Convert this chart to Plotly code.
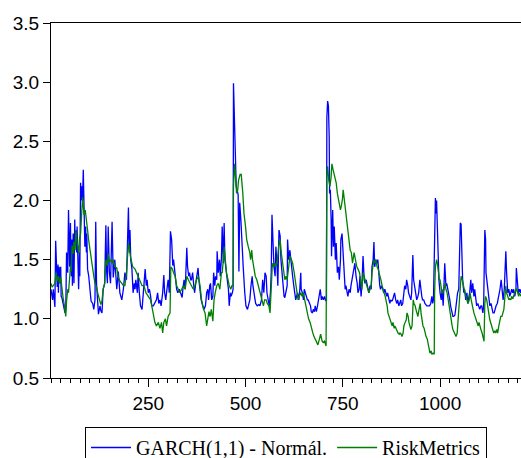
import plotly.graph_objects as go

garch_obs = [0,2,4,6,8,10,12,14,16,18,19,21,23,25,26,28,31,34,36,38,40,43,45,48,50,52,54,55,57,59,61,62,64,66,67,69,71,73,74,76,78,79,81,83,85,87,89,91,92,94,97,100,103,107,110,113,115,117,120,122,126,128,131,134,138,141,143,145,147,150,153,157,160,164,169,173,177,
             182,186,190,194,199,201,203,205,208,211,214,216,218,222,224,227,230,234,237,240,242,245,247,250,253,256,259,263,267,271,274,277,280,283,287,290,292,295,298,301,304,307,310,313,315,318,320,323,326,330,333,337,339,342,345,349,351,354,356,359,361,364,367,369,372,374,378,380,
             383,386,390,393,397,400,403,405,408,410,413,416,418,421,423,426,427,430,433,435,438,440,443,445,447,450,453,456,458,461,463,466,468,469,471,472,474,476,479,481,483,485,488,491,494,498,501,505,508,511,514,517,519,523,526,530,534,537,541,544,547,550,553,555,559,561,564,566,568,571,573,576,578,581,583,586,589,591,594,596,599,601,604,607,608,611,
             614,616,619,621,624,626,629,631,634,637,639,642,643,646,649,651,654,656,659,661,664,667,669,672,674,677,679,682,685,687,690,692,695,697,700,703,705,708,709,711,713,715,716,718,720,721,724,726,728,731,733,736,739,741,744,745,748,751,753,756,758,761,763,766,769,771,774,776,779,781,784,787,789,792,794,
             797,799,802,805,807,810,812,815,817,820,823,825,828,830,832,835,837,840,842,845,847,850,853,855,858,860,863,865,868,871,873,876,878,881,883,886,889,891,894,896,899,901,904,907,909,912,914,917,919,922,925,927,930,932,935,937,940,943,945,948,950,953,955,958,961,963,966,968,971,973,976,979,981,983,985,986,988,990,991,993,995,997,
             1000,1003,1005,1008,1010,1012,1015,1017,1020,1022,1025,1027,1030,1033,1035,1038,1040,1043,1045,1048,1051,1052,1054,1056,1058,1061,1063,1066,1069,1071,1074,1076,1079,1081,1084,1087,1089,1092,1094,1097,1099,1102,1105,1107,1110,1112,1115,1117,1118,1121,1123,1126,1128,1131,1134,1136,1139,1141,1144,1147,1149,1152,1154,1157,1159,1162,1165,1167,1169,1171,1174,1177,1179,1182,1184,1187,1189,1192,1195,1196,1199,1201,1204,1207,1208]
garch_val = [1.25,1.20,1.16,1.25,1.12,1.10,1.66,1.36,1.27,1.46,1.22,1.44,1.30,1.44,1.19,1.18,1.12,1.08,1.05,1.08,1.56,1.39,1.92,1.44,1.81,1.36,1.67,1.28,1.72,1.30,1.84,1.67,1.75,1.56,1.78,1.33,1.25,1.56,1.36,2.15,2.00,2.12,2.00,2.26,2.00,1.61,1.78,1.56,1.72,1.42,1.36,1.22,1.15,1.13,1.08,1.16,1.82,1.30,1.08,1.04,1.11,1.07,1.05,1.25,1.30,1.79,1.40,1.30,1.78,1.40,1.30,1.82,1.35,1.50,1.25,1.40,1.22,
             1.16,1.25,1.39,1.33,1.94,1.56,1.75,1.50,1.42,1.22,1.30,1.25,1.33,1.22,1.39,1.22,1.11,1.08,1.22,1.33,1.42,1.28,1.33,1.22,1.25,1.19,1.11,1.11,1.13,1.16,1.22,1.13,1.16,1.11,1.22,1.37,1.22,1.16,1.25,1.33,1.22,1.74,1.67,1.45,1.50,1.39,1.33,1.25,1.22,1.25,1.22,1.18,1.25,1.33,1.25,1.60,1.44,1.36,1.39,1.33,1.33,1.39,1.28,1.22,1.30,1.36,1.43,1.33,
             1.22,1.16,1.11,1.08,1.11,1.22,1.25,1.16,1.28,1.30,1.16,1.19,1.39,1.28,1.36,1.33,1.57,1.39,1.50,1.36,1.51,1.78,1.47,1.81,1.50,1.39,1.33,1.25,1.11,1.22,1.19,1.22,1.25,2.99,2.79,2.62,2.35,2.12,2.08,2.05,1.40,1.98,1.84,1.61,1.44,1.22,1.11,1.08,1.13,1.16,1.28,1.36,1.28,1.19,1.13,1.11,1.12,1.11,1.16,1.33,1.22,1.39,1.36,1.22,1.16,1.11,1.22,1.39,1.88,1.64,1.44,1.36,1.61,1.44,1.28,1.75,1.70,1.50,1.39,1.25,1.19,1.18,1.22,1.28,1.67,1.50,
             1.58,1.50,1.44,1.36,1.28,1.22,1.16,1.19,1.22,1.16,1.22,1.39,1.25,1.22,1.16,1.25,1.22,1.19,1.16,1.16,1.13,1.11,1.06,1.05,1.08,1.06,1.11,1.06,1.11,1.16,1.22,1.25,1.16,1.19,1.16,1.19,1.16,1.15,2.70,2.84,2.80,2.54,2.06,2.09,1.84,1.53,1.92,1.61,1.78,1.50,1.64,1.39,1.44,1.33,1.50,1.67,1.72,1.50,1.33,1.25,1.28,1.22,1.19,1.25,1.22,1.28,1.33,1.39,1.44,1.47,1.36,1.30,1.22,1.25,1.36,
             1.19,1.28,1.53,1.33,1.30,1.33,1.30,1.25,1.22,1.28,1.25,1.44,1.50,1.65,1.44,1.50,1.47,1.50,1.39,1.28,1.25,1.28,1.25,1.22,1.25,1.22,1.19,1.22,1.16,1.13,1.16,1.15,1.16,1.19,1.22,1.16,1.13,1.16,1.11,1.13,1.16,1.11,1.13,1.22,1.28,1.25,1.33,1.28,1.22,1.19,1.16,1.22,1.54,1.33,1.25,1.22,1.16,1.19,1.22,1.33,1.25,1.19,1.16,1.16,1.13,1.12,1.11,1.11,1.11,1.11,1.13,1.19,1.13,1.16,1.50,1.72,2.02,1.89,2.00,1.78,1.50,1.33,
             1.22,1.16,1.25,1.11,1.28,1.47,1.28,1.30,1.25,1.22,1.16,1.11,1.05,1.02,1.02,1.03,1.08,1.19,1.22,1.25,1.61,1.81,1.80,1.47,1.33,1.22,1.25,1.16,1.22,1.13,1.19,1.22,1.33,1.22,1.30,1.19,1.25,1.16,1.11,1.13,1.11,1.08,1.11,1.11,1.05,1.11,1.75,1.67,1.39,1.28,1.22,1.16,1.11,1.13,1.08,1.05,1.05,1.08,1.11,1.13,1.16,1.22,1.25,1.33,1.22,1.16,1.25,1.39,1.57,1.39,1.22,1.25,1.19,1.22,1.25,1.22,1.25,1.19,1.25,1.43,1.33,1.22,1.25,1.22,1.25]

risk_obs = [0,3,6,10,13,16,19,22,25,28,31,34,36,38,40,43,45,48,50,52,54,57,59,62,64,66,69,71,73,76,79,81,83,85,88,91,94,97,100,104,107,110,113,117,120,124,128,131,134,138,141,145,147,150,153,157,160,164,169,173,177,
            182,186,190,194,199,201,204,210,216,220,224,229,234,239,244,250,256,259,263,267,271,276,280,284,287,290,294,297,301,306,308,312,315,319,323,327,331,336,340,345,349,353,357,361,366,370,374,379,
            383,387,392,396,400,403,406,409,412,416,419,422,426,430,434,438,440,443,445,448,451,455,458,462,465,468,469,472,475,477,480,482,486,489,493,496,500,503,507,511,513,516,518,522,525,529,533,537,541,546,549,553,556,560,563,566,569,571,575,578,582,585,589,591,
            594,596,599,601,604,607,611,614,618,621,625,628,631,635,638,642,645,649,652,655,659,662,666,669,673,676,679,683,686,690,693,697,700,703,707,709,711,714,717,720,722,725,727,730,733,736,739,741,744,746,749,751,754,757,759,762,765,769,772,775,779,782,786,789,793,
            797,799,802,805,807,810,812,815,817,820,823,825,828,830,833,835,838,841,843,846,848,851,853,856,859,861,864,866,869,871,874,877,879,882,884,887,889,892,895,897,900,902,905,907,910,913,915,918,920,923,925,928,931,933,936,938,941,943,946,949,951,954,956,959,961,964,967,969,972,974,977,979,982,985,986,988,991,993,996,998,
            1000,1003,1005,1008,1010,1013,1015,1018,1021,1023,1026,1028,1031,1033,1036,1039,1041,1044,1046,1049,1051,1054,1057,1059,1062,1064,1067,1069,1072,1075,1077,1080,1082,1085,1087,1090,1093,1095,1098,1100,1103,1105,1108,1111,1113,1115,1117,1120,1123,1125,1128,1130,1133,1135,1138,1141,1143,1146,1148,1151,1153,1156,1159,1161,1164,1166,1169,1171,1174,1177,1179,1182,1184,1187,1189,1192,1195,1197,1199,1202,1204,1207,1208]
risk_val = [1.30,1.27,1.28,1.30,1.39,1.32,1.36,1.30,1.35,1.25,1.18,1.12,1.07,1.02,1.15,1.25,1.22,1.35,1.44,1.40,1.62,1.55,1.65,1.58,1.75,1.68,1.60,1.55,1.67,1.72,1.90,2.03,1.95,1.88,1.92,1.85,1.75,1.66,1.58,1.50,1.42,1.36,1.30,1.27,1.22,1.16,1.12,1.15,1.25,1.30,1.50,1.45,1.55,1.48,1.50,1.47,1.50,1.44,1.43,1.35,1.32,
            1.30,1.28,1.28,1.39,1.64,1.61,1.53,1.44,1.42,1.39,1.36,1.33,1.28,1.28,1.22,1.19,1.16,1.11,1.05,0.97,0.94,0.97,0.92,0.97,0.88,0.97,1.00,0.94,1.02,1.05,1.44,1.42,1.39,1.36,1.28,1.25,1.22,1.25,1.28,1.25,1.36,1.33,1.30,1.28,1.25,1.28,1.33,1.36,
            1.28,1.16,1.08,1.05,0.94,1.02,1.06,1.02,1.08,0.98,1.16,1.22,1.28,1.30,1.25,1.39,1.39,1.50,1.61,1.50,1.39,1.33,1.28,1.25,1.28,1.28,2.12,2.31,2.20,2.06,2.09,2.17,2.22,2.22,2.06,1.89,1.78,1.67,1.61,1.56,1.50,1.58,1.50,1.42,1.36,1.33,1.28,1.22,1.16,1.11,1.16,1.16,1.13,1.11,1.05,1.25,1.47,1.44,1.47,1.44,1.50,1.61,1.67,1.58,
            1.50,1.47,1.39,1.33,1.36,1.33,1.44,1.53,1.50,1.47,1.39,1.33,1.25,1.16,1.19,1.22,1.19,1.22,1.16,1.11,1.05,1.00,0.97,0.94,0.88,0.85,0.83,0.80,0.78,0.83,0.87,0.81,0.80,0.81,0.77,2.20,2.29,2.17,2.12,2.20,2.31,2.26,2.23,2.17,2.15,2.06,2.01,1.95,1.92,1.95,2.01,2.09,2.01,1.89,1.84,1.75,1.67,1.58,1.56,1.47,1.56,1.50,1.44,1.42,1.39,
            1.30,1.25,1.39,1.36,1.33,1.30,1.28,1.25,1.22,1.25,1.28,1.39,1.44,1.50,1.47,1.50,1.44,1.42,1.39,1.36,1.33,1.28,1.25,1.22,1.19,1.16,1.11,1.05,1.02,0.99,0.97,0.94,0.97,0.92,0.94,0.91,0.90,0.88,0.87,0.88,0.87,0.85,0.88,0.94,0.97,0.99,1.05,1.02,0.97,0.94,0.91,0.94,1.16,1.13,1.11,1.08,1.05,1.02,1.08,1.13,1.05,0.99,0.94,0.92,0.88,0.85,0.83,0.80,0.74,0.71,0.73,0.70,0.71,0.70,1.22,1.44,1.50,1.47,1.39,1.33,
            1.33,1.28,1.22,1.22,1.25,1.30,1.25,1.22,1.16,1.11,1.05,0.99,0.94,0.91,0.88,0.87,0.85,0.88,0.99,1.16,1.28,1.36,1.33,1.28,1.25,1.22,1.19,1.16,1.13,1.16,1.22,1.16,1.11,1.08,1.05,1.02,0.99,0.97,0.94,0.97,0.92,0.91,0.88,0.85,0.81,1.13,1.19,1.16,1.11,1.05,0.99,0.97,0.94,0.91,0.88,0.90,0.88,0.91,0.88,0.94,0.97,1.02,1.02,1.05,1.08,1.16,1.28,1.22,1.19,1.16,1.17,1.16,1.19,1.17,1.19,1.22,1.25,1.25,1.22,1.19,1.22,1.19,1.19]

series_names = ["GARCH(1,1) - Normál.", "RiskMetrics"]
x_tick_vals = [250, 500, 750, 1000]
y_tick_vals = [0.5, 1.0, 1.5, 2.0, 2.5, 3.0, 3.5]

fig = go.Figure()
fig.add_trace(go.Scatter(x=garch_obs, y=garch_val, mode="lines", name=series_names[0],
                         line=dict(color="#0000FF", width=1.3)))
fig.add_trace(go.Scatter(x=risk_obs, y=risk_val, mode="lines", name=series_names[1],
                         line=dict(color="#008000", width=1.3)))

fig.update_layout(
    width=521, height=458,
    margin=dict(l=51, r=0, t=23, b=80, autoexpand=False),
    paper_bgcolor="white", plot_bgcolor="white",
    font=dict(family="Liberation Sans, Arial", size=19, color="black"),
    showlegend=True,
    legend=dict(orientation="h", xref="container", yref="container",
                x=85/521, y=1-427/458, xanchor="left", yanchor="top",
                bordercolor="black", borderwidth=1, bgcolor="white",
                itemwidth=40,
                font=dict(family="Liberation Serif, Times New Roman", size=20, color="black")),
)
fig.update_xaxes(range=[0, 1208], showgrid=False, zeroline=False,
                 showline=True, linecolor="black", linewidth=1, mirror=True,
                 tickmode="array", tickvals=x_tick_vals,
                 ticks="outside", ticklen=8, tickcolor="black", tickwidth=1,
                 minor=dict(tickmode="linear", tick0=0, dtick=25, ticks="outside",
                            ticklen=4, tickcolor="black", tickwidth=1, showgrid=False))
fig.update_yaxes(range=[0.5, 3.5], showgrid=False, zeroline=False,
                 showline=True, linecolor="black", linewidth=1, mirror=False,
                 tickmode="array", tickvals=y_tick_vals, tickformat=".1f",
                 ticks="outside", ticklen=7, tickcolor="black", tickwidth=1)

fig.write_html("out.html")
